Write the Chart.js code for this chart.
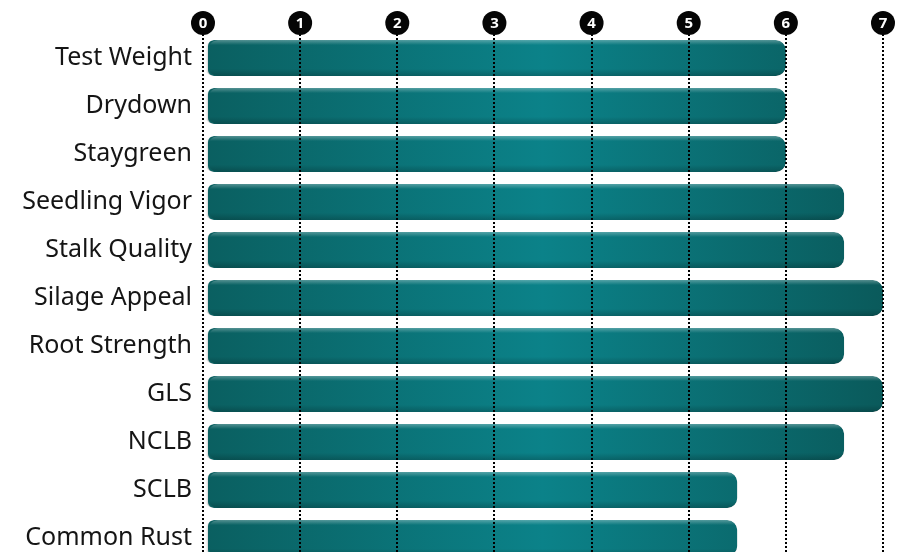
<!DOCTYPE html>
<html>
<head>
<meta charset="utf-8">
<script src="https://cdn.jsdelivr.net/npm/chart.js@4/dist/chart.umd.min.js"></script>
<style>
  html, body { margin: 0; padding: 0; background: #fff; overflow: hidden; }
</style>
</head>
<body>
<canvas id="grafica" width="897" height="570"></canvas>
<script>
// datos
const categorias = ["Test Weight", "Drydown", "Staygreen", "Seedling Vigor", "Stalk Quality",
  "Silage Appeal", "Root Strength", "GLS", "NCLB", "SCLB", "Common Rust"];
const puntuaciones = [6, 6, 6, 6.6, 6.6, 7, 6.6, 7, 6.6, 5.5, 5.5];
const marcas = [0, 1, 2, 3, 4, 5, 6, 7];

function degradado(ctx) {
  const chart = ctx.chart;
  const area = chart.chartArea;
  if (!area) return "#0a7078";
  const g = chart.ctx.createLinearGradient(area.left, 0, area.right, 0);
  g.addColorStop(0, "#0a5f60");
  g.addColorStop(0.5, "#0b8289");
  g.addColorStop(1, "#0a5a5b");
  return g;
}

// circulos negros con el numero de cada marca
const circulos = {
  id: "circulos",
  afterDraw(chart) {
    const c = chart.ctx;
    const x = chart.scales.x;
    c.save();
    marcas.forEach(m => {
      const px = x.getPixelForValue(m);
      c.beginPath();
      c.arc(px, 23, 12, 0, Math.PI * 2);
      c.fillStyle = "#050505";
      c.fill();
      c.fillStyle = "#fff";
      c.font = "bold 15px 'Noto Sans'";
      c.textAlign = "center";
      c.textBaseline = "middle";
      c.fillText(String(m), px, 24);
    });
    c.restore();
  }
};

// sombra suave y brillo arriba en las barras
const sombra = {
  id: "sombra",
  beforeDatasetsDraw(chart) {
    const c = chart.ctx;
    c.save();
    c.shadowColor = "rgba(0,0,0,0.35)";
    c.shadowBlur = 3;
    c.shadowOffsetY = 2;
  },
  afterDatasetsDraw(chart) {
    chart.ctx.restore();
    const c = chart.ctx;
    chart.getDatasetMeta(0).data.forEach(bar => {
      const top = bar.y - bar.height / 2;
      const g = c.createLinearGradient(0, top, 0, top + bar.height);
      g.addColorStop(0, "rgba(255,255,255,0.3)");
      g.addColorStop(0.14, "rgba(255,255,255,0.0)");
      g.addColorStop(0.8, "rgba(0,0,0,0)");
      g.addColorStop(1, "rgba(0,0,0,0.2)");
      c.save();
      c.beginPath();
      c.roundRect(bar.base + 4, top, bar.x - bar.base - 4, bar.height, 10);
      c.fillStyle = g;
      c.fill();
      c.restore();
    });
  }
};

new Chart(document.getElementById("grafica"), {
  type: "bar",
  data: {
    labels: categorias,
    datasets: [{
      data: puntuaciones,
      backgroundColor: degradado,
      borderColor: "rgba(0,0,0,0)",
      borderWidth: { left: 4, right: 0, top: 0, bottom: 0 },
      borderSkipped: false,
      borderRadius: 10,
      barPercentage: 0.75,
      categoryPercentage: 1
    }]
  },
  options: {
    indexAxis: "y",
    responsive: false,
    animation: false,
    layout: { padding: { top: 34, right: 14, bottom: 8, left: 0 } },
    plugins: { legend: { display: false }, tooltip: { enabled: false } },
    scales: {
      x: {
        position: "top",
        min: 0,
        max: 7,
        ticks: { display: false, stepSize: 1 },
        grid: { color: "#000", lineWidth: 2, drawTicks: false, z: 1 },
        border: { display: false, dash: [2, 2] },
        afterFit(s) { s.height = 0; s.paddingLeft = 0; s.paddingRight = 0; }
      },
      y: {
        afterFit(s) { s.width = 203; s.paddingTop = 0; s.paddingBottom = 0; },
        ticks: { color: "#151515", font: { family: "'Noto Sans'", size: 25 }, padding: 11 },
        grid: { display: false, drawTicks: false },
        border: { display: false }
      }
    }
  },
  plugins: [circulos, sombra]
});
</script>
</body>
</html>
